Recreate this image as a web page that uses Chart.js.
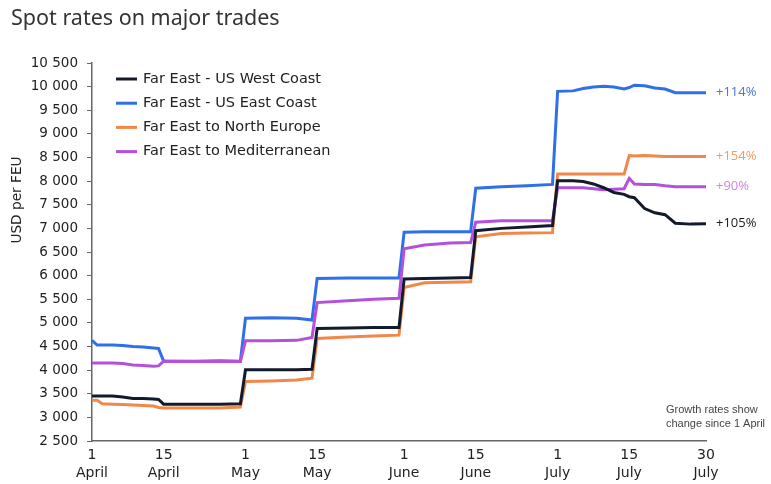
<!DOCTYPE html>
<html>
<head>
<meta charset="utf-8">
<script src="https://cdn.jsdelivr.net/npm/chart.js@4/dist/chart.umd.min.js"></script>
<style>
  html,body{margin:0;padding:0;background:#fff}
  #wrap{width:771px;height:484px;position:relative}
</style>
</head>
<body>
<div id="wrap"><canvas id="c"></canvas></div>
<script>
// days since 1 April (1 April = 0, 1 May = 30, 1 June = 61, 1 July = 91, 30 July = 120)
const days = [0,1,2,4,6,8,10,12,13,14,20,25,29,30,35,40,43,44,50,55,60,61,65,70,74,75,80,85,90,91,94,96,98,100,102,104,105,106,108,110,112,114,117,120];

const westCoast = [3450,3450,3450,3450,3430,3400,3400,3390,3380,3280,3280,3280,3290,4010,4010,4010,4020,4880,4890,4900,4900,5930,5940,5950,5960,6950,7000,7030,7060,8010,8010,7990,7940,7860,7760,7720,7670,7650,7420,7330,7290,7110,7090,7100];
const eastCoast = [4630,4530,4530,4530,4520,4500,4490,4470,4460,4190,4190,4200,4190,5100,5110,5100,5060,5940,5950,5950,5950,6920,6930,6930,6930,7850,7880,7900,7930,9900,9910,9960,9990,10010,9990,9950,9980,10030,10020,9970,9950,9870,9870,9870];
const northEurope = [3360,3360,3290,3280,3270,3260,3250,3240,3210,3200,3200,3200,3220,3760,3770,3790,3830,4670,4700,4720,4740,5750,5850,5860,5870,6820,6890,6900,6910,8150,8150,8150,8150,8150,8150,8150,8540,8530,8540,8530,8520,8520,8520,8520];
const mediterranean = [4150,4150,4150,4150,4140,4110,4100,4080,4090,4190,4180,4180,4180,4620,4620,4630,4690,5430,5470,5500,5520,6570,6650,6690,6700,7130,7160,7160,7160,7860,7860,7860,7840,7820,7830,7840,8060,7940,7930,7930,7900,7880,7880,7880];

const seriesNames = ["Far East - US West Coast","Far East - US East Coast","Far East to North Europe","Far East to Mediterranean"];
const growthLabels = ["+105%","+114%","+154%","+90%"];
const tickDays = [0,14,30,44,61,75,91,105,120];
const tickLabels = [["1","April"],["15","April"],["1","May"],["15","May"],["1","June"],["15","June"],["1","July"],["15","July"],["30","July"]];

const lineColors = ["#131a2c","#2f6fea","#f2874a","#b350dc"];
const labelColors = ["#1a1a1a","#4a74d6","#f29a64","#cc86e0"];

const AXIS_FONT = "'DejaVu Sans', Verdana, sans-serif";

function pts(vals){ return vals.map((v,i)=>({x:days[i], y:v})); }
function fmtThousands(v){ return Math.floor(v/1000) + " " + String(v%1000).padStart(3,"0"); }

const overlay = {
  id:"overlay",
  afterDraw(chart){
    const ctx = chart.ctx, y = chart.scales.y, area = chart.chartArea;
    ctx.save();
    // title
    ctx.fillStyle = "#333";
    ctx.font = "21.5px 'Noto Sans', sans-serif";
    ctx.textBaseline = "middle";
    ctx.textAlign = "left";
    ctx.fillText("Spot rates on major trades", 11, 19);

    // y axis title
    ctx.save();
    ctx.translate(17, 200);
    ctx.rotate(-Math.PI/2);
    ctx.textAlign = "center";
    ctx.fillStyle = "#222";
    ctx.font = "13.7px " + AXIS_FONT;
    ctx.fillText("USD per FEU", 0, 0);
    ctx.restore();

    // legend
    ctx.font = "14.5px " + AXIS_FONT;
    seriesNames.forEach((n,i)=>{
      const ly = 79 + i*24.2;
      ctx.strokeStyle = lineColors[i];
      ctx.lineWidth = 3;
      ctx.beginPath(); ctx.moveTo(116, ly); ctx.lineTo(137, ly); ctx.stroke();
      ctx.fillStyle = "#222";
      ctx.fillText(n, 143, ly);
    });

    // growth labels at the end of each line
    const lasts = [westCoast, eastCoast, northEurope, mediterranean].map(a=>a[a.length-1]);
    ctx.font = "13px 'Open Sans', sans-serif";
    lasts.forEach((v,i)=>{
      ctx.fillStyle = labelColors[i];
      ctx.fillText(growthLabels[i], area.right + 10, y.getPixelForValue(v));
    });

    // note
    ctx.fillStyle = "#444";
    ctx.font = "11px 'Liberation Sans', Arial, sans-serif";
    ctx.fillText("Growth rates show", 666, 410);
    ctx.fillText("change since 1 April", 666, 424);
    ctx.restore();
  }
};

new Chart(document.getElementById("c"), {
  type:"line",
  data:{
    datasets:[westCoast, eastCoast, northEurope, mediterranean].map((vals,i)=>({
      label: seriesNames[i], data: pts(vals),
      borderColor: lineColors[i], backgroundColor: lineColors[i],
      borderWidth: 3, pointRadius: 0, tension: 0,
      order: [0,3,2,1][i]
    }))
  },
  options:{
    responsive:true, maintainAspectRatio:false, animation:false,
    layout:{ padding:{ top:63, right:65, bottom:0, left:0 } },
    plugins:{ legend:{display:false}, tooltip:{enabled:false} },
    scales:{
      x:{
        type:"linear", min:0, max:120,
        afterBuildTicks: s => { s.ticks = tickDays.map(v=>({value:v})); },
        afterFit: s => { s.height = 43; },
        ticks:{
          callback:(v)=> tickLabels[tickDays.indexOf(v)] || "",
          color:"#222", font:{family:AXIS_FONT, size:14, lineHeight:1.3},
          padding:5, maxRotation:0, autoSkip:false
        },
        grid:{ display:false, drawTicks:false },
        border:{ display:true, color:"#666", width:1.5 }
      },
      y:{
        min:2500, max:10500,
        afterFit: s => { s.width = 92; },
        ticks:{
          stepSize:500,
          callback:(v)=> fmtThousands(v),
          color:"#222", font:{family:AXIS_FONT, size:13.5}, padding:9
        },
        grid:{ drawOnChartArea:false, drawTicks:true, tickLength:5, color:"#666" },
        border:{ display:true, color:"#666", width:1.5 }
      }
    }
  },
  plugins:[overlay]
});
</script>
</body>
</html>
